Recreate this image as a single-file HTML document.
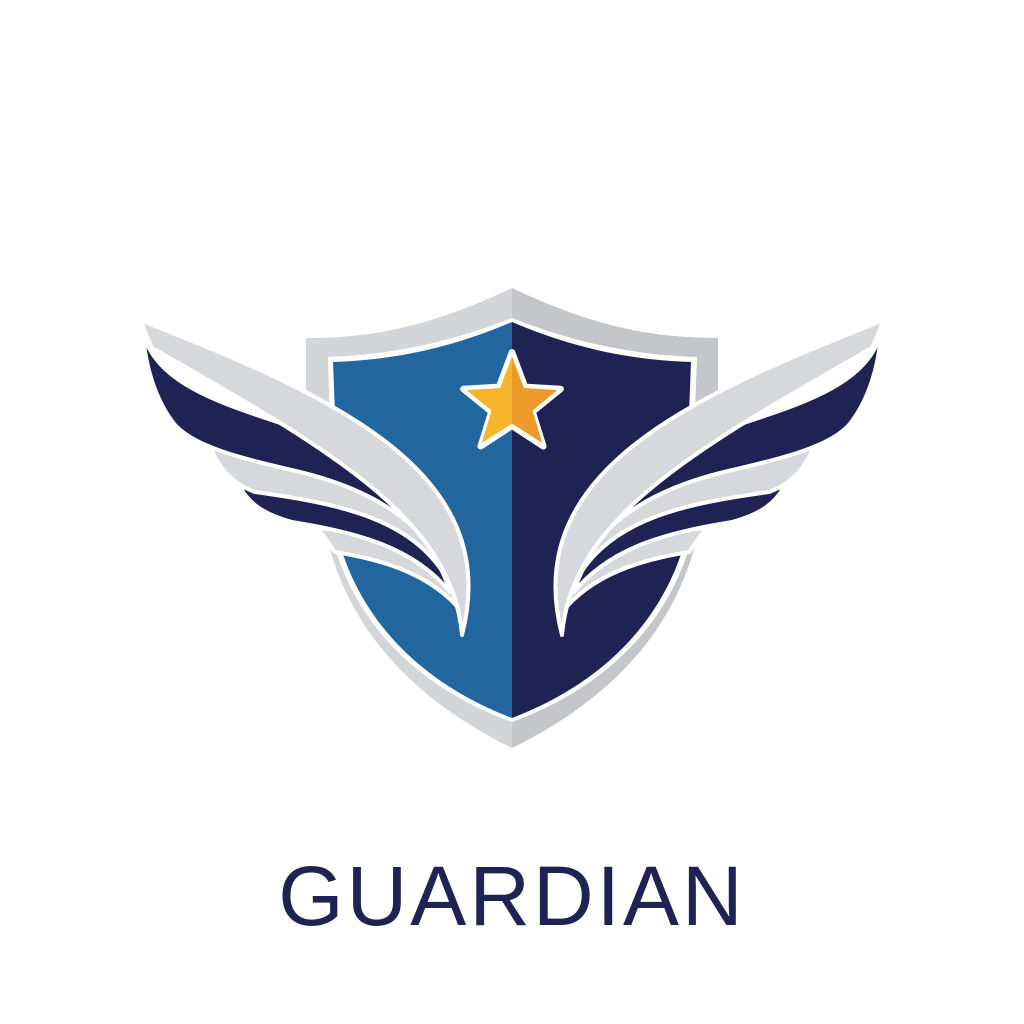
<!DOCTYPE html>
<html><head><meta charset="utf-8"><style>
html,body{margin:0;padding:0;background:#fff;width:1024px;height:1024px;overflow:hidden}
svg{display:block}
</style></head><body>
<svg width="1024" height="1024" viewBox="0 0 1024 1024">
<rect width="1024" height="1024" fill="#fff"/>
<g>
<path d="M512,288 C600,330 660,338 718,338 L718,400 L695,545 C670,640 600,705 512,748 C424,705 354,640 329,545 L306,400 L306,338 C364,338 424,330 512,288 Z" fill="#d3d5d8"/>
<path d="M512,288 C600,330 660,338 718,338 L718,400 L695,545 C670,640 600,705 512,748 Z" fill="#c4c6ca"/>
<path d="M512,318 C580,345 640,355 697,357 L690,545 C665,630 600,690 512,722 C424,690 359,630 334,545 L328,357 C384,355 444,345 512,318 Z" fill="#fff"/>
<path d="M512,322 L512,718 C428,686 365,628 340,545 L333,362 C390,360 446,350 512,322 Z" fill="#22669f"/>
<path d="M512,322 L512,718 C596,686 659,628 684,545 L691,362 C634,360 578,350 512,322 Z" fill="#1f2354"/>
</g>
<g transform="translate(512,402) scale(1.08) translate(-512,-402)">
<polygon points="512,356 524,388 557,390 531,411 541,443 512,424 483,443 493,411 467,390 500,388" fill="#fff" stroke="#fff" stroke-width="6" stroke-linejoin="round"/>
<polygon points="512,360 512,422 484,440 493,410 470,391 501,389" fill="#f5b62d"/>
<polygon points="512,360 523,389 554,391 531,410 540,440 512,422" fill="#ee9a2b"/>
</g>
<g id="wing" stroke="#fff" stroke-width="4" stroke-linejoin="round">
<path d="M318,528 C400,535 452,555 462,612 C432,575 385,560 335,552 Z" fill="#d7d8db"/>
<path d="M240,487 C330,500 425,505 450,592 C412,545 352,532 292,522 C262,514 248,502 240,487 Z" fill="#1f2354"/>
<path d="M205,430 C330,440 445,478 454,592 C422,522 350,505 255,492 C228,482 213,462 205,430 Z" fill="#d7d8db"/>
<path d="M143,333 C160,395 250,410 330,440 C425,475 472,530 458,607 C442,532 382,492 300,472 C240,458 195,447 175,425 C155,400 145,365 143,333 Z" fill="#1f2354"/>
<path d="M140,320 C330,395 505,470 462,635 C452,520 335,452 152,348 Z" fill="#d7d8db"/>
</g>
<use href="#wing" transform="translate(1024,0) scale(-1,1)"/>
<text x="512" y="925" text-anchor="middle" font-family="Liberation Sans, sans-serif" font-size="84" letter-spacing="3" fill="#1f2354">GUARDIAN</text>
</svg>
</body></html>
